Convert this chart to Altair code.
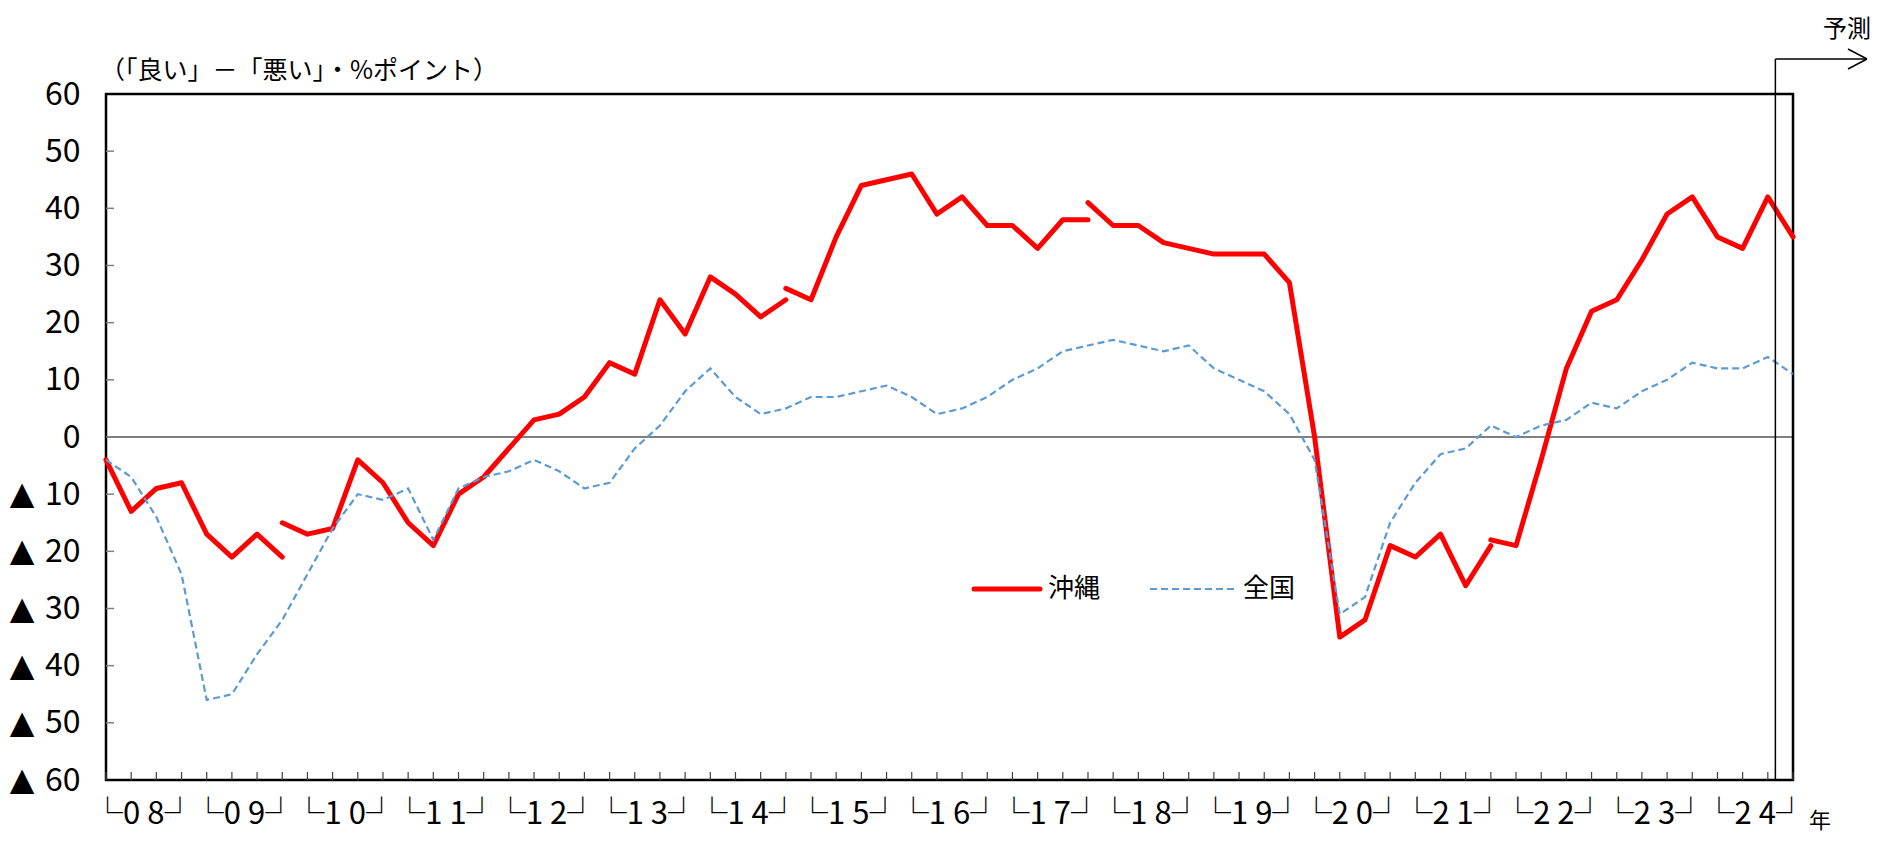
import altair as alt
import pandas as pd
import numpy as np

# ---------------- data ----------------
years = ["08", "09", "10", "11", "12", "13", "14", "15", "16",
         "17", "18", "19", "20", "21", "22", "23", "24"]

# 沖縄 (segments restart where the survey basis changed)
okinawa_seg1_start = 0
okinawa_seg1 = [-4, -13, -9, -8, -17, -21, -17, -21]
okinawa_seg2_start = 7
okinawa_seg2 = [-15, -17, -16, -4, -8, -15, -19, -10, -7, -2, 3, 4, 7, 13, 11,
                24, 18, 28, 25, 21, 24]
okinawa_seg3_start = 27
okinawa_seg3 = [26, 24, 35, 44, 45, 46, 39, 42, 37, 37, 33, 38, 38]
okinawa_seg4_start = 39
okinawa_seg4 = [41, 37, 37, 34, 33, 32, 32, 32, 27, 0, -35, -32, -19, -21, -17,
                -26, -19]
okinawa_seg5_start = 55
okinawa_seg5 = [-18, -19, -4, 12, 22, 24, 31, 39, 42, 35, 33, 42, 35]

# 全国
zenkoku = [-4, -7, -14, -24, -46, -45, -38, -32, -24, -16,
           -10, -11, -9, -18, -9, -7, -6, -4, -6, -9,
           -8, -2, 2, 8, 12, 7, 4, 5, 7, 7,
           8, 9, 7, 4, 5, 7, 10, 12, 15, 16,
           17, 16, 15, 16, 12, 10, 8, 4, -4, -31,
           -28, -15, -8, -3, -2, 2, 0, 2, 3, 6,
           5, 8, 10, 13, 12, 12, 14, 11]

series_names = ["沖縄", "全国"]
y_ticks = list(range(-60, 61, 10))
forecast_at = 66.3

# ---------------- tables ----------------
rows = []
for k, (start, vals) in enumerate([
        (okinawa_seg1_start, okinawa_seg1), (okinawa_seg2_start, okinawa_seg2),
        (okinawa_seg3_start, okinawa_seg3), (okinawa_seg4_start, okinawa_seg4),
        (okinawa_seg5_start, okinawa_seg5)]):
    for j, v in enumerate(vals):
        rows.append({"i": start + j, "v": v, "seg": k})
df_oki = pd.DataFrame(rows)
df_zen = pd.DataFrame({"i": np.arange(len(zenkoku)), "v": zenkoku})
n_q = len(zenkoku)

df_years = pd.DataFrame({"lab": ["└" + y[0] + "\u00a0" + y[1] + "┘" for y in years],
                         "i": np.arange(len(years)) * 4 + 1.5})

W, H = 1687, 686
NUM_FONT = "Liberation Sans Narrow, Arial Narrow, Noto Sans CJK JP"
JP_FONT = "Noto Sans CJK JP"

xscale = alt.Scale(domain=[0, n_q - 1], nice=False, zero=False)
yscale = alt.Scale(domain=[-60, 60], nice=False)
yaxis = alt.Axis(values=y_ticks, ticks=False, domain=False, grid=False,
                 labelPadding=26, labelFontSize=32, labelFont=NUM_FONT,
                 labelColor="black",
                 labelExpr="'' + abs(datum.value)")
X = alt.X("i:Q", scale=xscale, axis=None)
Y = alt.Y("v:Q", scale=yscale, axis=yaxis, title=None)

zero = alt.Chart(pd.DataFrame({"v": [0]})).mark_rule(
    color="black", strokeWidth=1.2).encode(y=Y)

yt = alt.Chart(pd.DataFrame({"v": y_ticks[1:-1]})).mark_rule(
    color="#808080", strokeWidth=1.5).encode(
    y=Y, x=alt.value(0), x2=alt.value(8))

tri = alt.Chart(pd.DataFrame({"v": [t for t in y_ticks if t < 0]})).mark_text(
    text="▲", font="DejaVu Sans", fontSize=32, align="center",
    baseline="middle", color="black").encode(y=Y, x=alt.value(-84))

xt = alt.Chart(pd.DataFrame({"i": np.arange(n_q)})).mark_rule(
    color="#404040", strokeWidth=1.2).encode(
    x=X, y=alt.value(H), y2=alt.value(H - 8))

red = alt.Chart(df_oki).mark_line(
    color="#FF0000", strokeWidth=5, strokeCap="round", strokeJoin="round").encode(
    x=X, y=Y, detail="seg:N")

blue = alt.Chart(df_zen).mark_line(
    color="#5B9BD5", strokeWidth=2.2, strokeDash=[7, 4]).encode(x=X, y=Y)

fc_df = pd.DataFrame({"i": [forecast_at]})
fc_v = alt.Chart(fc_df).mark_rule(color="black", strokeWidth=1.5).encode(
    x=X, y=alt.value(-35), y2=alt.value(H))
fc_h = alt.Chart(fc_df).mark_rule(color="black", strokeWidth=1.5).encode(
    x=X, x2=alt.value(1761), y=alt.value(-35))
fc_a1 = alt.Chart(fc_df).mark_rule(color="black", strokeWidth=1.5).encode(
    x=alt.value(1742), x2=alt.value(1761), y=alt.value(-45), y2=alt.value(-35))
fc_a2 = alt.Chart(fc_df).mark_rule(color="black", strokeWidth=1.5).encode(
    x=alt.value(1742), x2=alt.value(1761), y=alt.value(-25), y2=alt.value(-35))
fc_t = alt.Chart(pd.DataFrame({"t": ["予測"]})).mark_text(
    font=JP_FONT, fontSize=24, align="center", baseline="middle", color="black").encode(
    text="t:N", x=alt.value(1741), y=alt.value(-64))

title_t = alt.Chart(pd.DataFrame({"t": ["（「良い」－「悪い」・%ポイント）"]})).mark_text(
    font=JP_FONT, fontSize=25, align="left", baseline="middle", color="black").encode(
    text="t:N", x=alt.value(-6), y=alt.value(-23))

nen_t = alt.Chart(pd.DataFrame({"t": ["年"]})).mark_text(
    font=JP_FONT, fontSize=22, align="center", baseline="middle", color="black").encode(
    text="t:N", x=alt.value(1714), y=alt.value(727))

year_t = alt.Chart(df_years).mark_text(
    font=NUM_FONT, fontSize=31, align="center", baseline="middle", color="black").encode(
    text="lab:N", x=X, y=alt.value(721))

leg_red = alt.Chart(pd.DataFrame({"s": [series_names[0]]})).mark_rule(
    color="#FF0000", strokeWidth=5, strokeCap="round").encode(
    x=alt.value(868), x2=alt.value(934), y=alt.value(495))
leg_red_t = alt.Chart(pd.DataFrame({"s": [series_names[0]]})).mark_text(
    font=JP_FONT, fontSize=26, align="left", baseline="middle", color="black").encode(
    text="s:N", x=alt.value(942), y=alt.value(495))
leg_blue = alt.Chart(pd.DataFrame({"s": [series_names[1]]})).mark_rule(
    color="#5B9BD5", strokeWidth=2.2, strokeDash=[7, 4]).encode(
    x=alt.value(1044), x2=alt.value(1129), y=alt.value(495))
leg_blue_t = alt.Chart(pd.DataFrame({"s": [series_names[1]]})).mark_text(
    font=JP_FONT, fontSize=26, align="left", baseline="middle", color="black").encode(
    text="s:N", x=alt.value(1137), y=alt.value(495))

chart = alt.layer(
    zero, yt, tri, xt, red, blue, fc_v, fc_h, fc_a1, fc_a2, fc_t, title_t, nen_t,
    year_t, leg_red, leg_red_t, leg_blue, leg_blue_t
).properties(
    width=W, height=H,
    background="white",
    autosize=alt.AutoSizeParams(type="none"),
    padding={"left": 98, "top": 86, "right": 92, "bottom": 55},
).configure_view(stroke="black", strokeWidth=2.5)

chart.save("out.html", embed_options={"renderer": "svg", "actions": False})
